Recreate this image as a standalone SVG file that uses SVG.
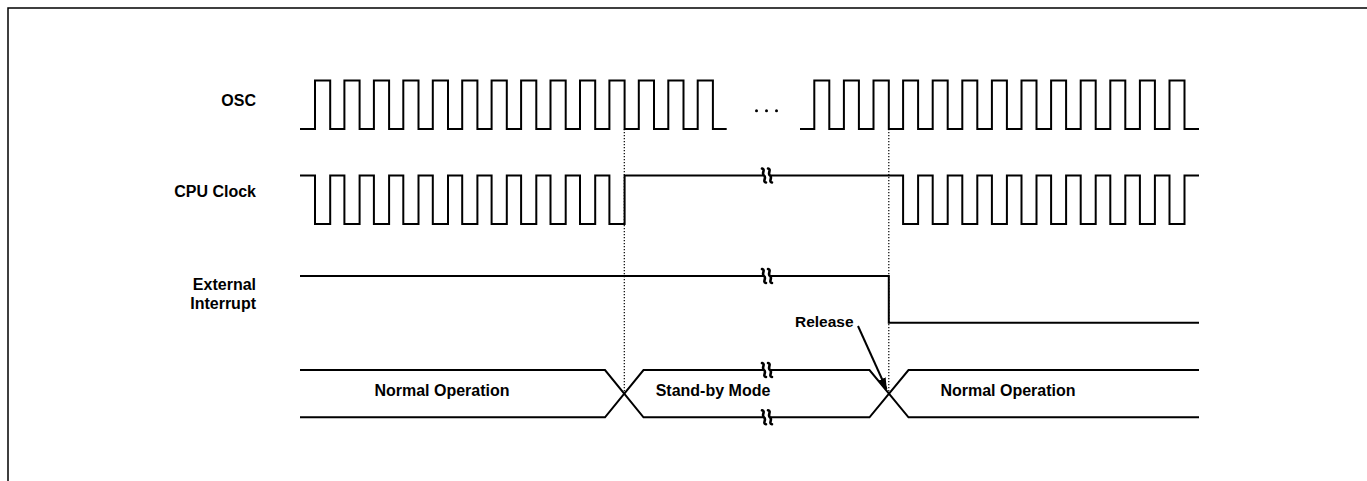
<svg xmlns="http://www.w3.org/2000/svg" width="1367" height="481" viewBox="0 0 1367 481">
<style>
.frame{fill:none;stroke:#000;stroke-width:1.5}
.wave{fill:none;stroke:#000;stroke-width:2;stroke-linejoin:miter;stroke-linecap:butt}
.dot{fill:none;stroke:#000;stroke-width:1.2;stroke-dasharray:1.2 1.8}
.brk{fill:none;stroke:#000;stroke-width:2.6;stroke-linecap:round}
.gap{fill:#fff;stroke:none}
text{font-family:"Liberation Sans",Arial,sans-serif;font-weight:bold;font-size:16px;fill:#000}
.lbl{text-anchor:end}
.mid{text-anchor:middle}
</style>
<defs>
<marker id="arr" viewBox="0 0 12 10" refX="11" refY="5" markerWidth="12" markerHeight="10" markerUnits="userSpaceOnUse" orient="auto">
<path d="M0,1 L12,5 L0,9 Z" fill="#000"/>
</marker>
<g id="brkmark">
<path class="gap" d="M-3,-9 L4,-9 L3,9 L-4,9 Z"/>
<path class="brk" d="M-5,-7 C-1,-6 -6,-2 -3,0 C0,2 -5,6 -1,7"/>
<path class="brk" d="M1,-7 C5,-6 0,-2 3,0 C6,2 1,6 5,7"/>
</g>
</defs>
<path class="frame" d="M8,481 V8 H1367"/>
<g id="labels">
<text class="lbl" x="256" y="105.5">OSC</text>
<text class="lbl" x="256" y="197">CPU Clock</text>
<text class="lbl" x="256" y="290">External</text>
<text class="lbl" x="256" y="308.5">Interrupt</text>
</g>
<g id="osc">
<path class="wave" d="M300,129 H315 V80.5 H330.2 V129 H344.4 V80.5 H359.6 V129 H373.9 V80.5 H389.1 V129 H403.3 V80.5 H418.5 V129 H432.8 V80.5 H448 V129 H462.2 V80.5 H477.4 V129 H491.6 V80.5 H506.8 V129 H521.1 V80.5 H536.3 V129 H550.5 V80.5 H565.7 V129 H580 V80.5 H595.2 V129 H609.4 V80.5 H624.6 V129 H638.8 V80.5 H654 V129 H668.3 V80.5 H683.5 V129 H697.7 V80.5 H712.9 V129 H726.7"/>
<circle cx="756.5" cy="110.7" r="1.5"/>
<circle cx="766.5" cy="110.7" r="1.5"/>
<circle cx="776.5" cy="110.7" r="1.5"/>
<path class="wave" d="M800,129 H814.3 V80.5 H829.3 V129 H843.9 V80.5 H858.9 V129 H873.5 V80.5 H888.8 V129 H903.1 V80.5 H918.1 V129 H932.7 V80.5 H947.7 V129 H962.3 V80.5 H977.3 V129 H991.9 V80.5 H1006.9 V129 H1021.5 V80.5 H1036.5 V129 H1051.1 V80.5 H1066.1 V129 H1080.7 V80.5 H1095.7 V129 H1110.3 V80.5 H1125.3 V129 H1139.9 V80.5 H1154.9 V129 H1169.5 V80.5 H1184.5 V129 H1199"/>
</g>
<g id="cpu">
<path class="wave" d="M300,175.5 H315 V224 H330.2 V175.5 H344.4 V224 H359.6 V175.5 H373.9 V224 H389.1 V175.5 H403.3 V224 H418.5 V175.5 H432.8 V224 H448 V175.5 H462.2 V224 H477.4 V175.5 H491.6 V224 H506.8 V175.5 H521.1 V224 H536.3 V175.5 H550.5 V224 H565.7 V175.5 H580 V224 H595.2 V175.5 H609.4 V224 H624.6 V175.5 H903.1 V224 H918.1 V175.5 H932.7 V224 H947.7 V175.5 H962.3 V224 H977.3 V175.5 H991.9 V224 H1006.9 V175.5 H1021.5 V224 H1036.5 V175.5 H1051.1 V224 H1066.1 V175.5 H1080.7 V224 H1095.7 V175.5 H1110.3 V224 H1125.3 V175.5 H1139.9 V224 H1154.9 V175.5 H1169.5 V224 H1184.5 V175.5 H1199"/>
<use href="#brkmark" x="767" y="175.5"/>
</g>
<g id="extint">
<path class="wave" d="M300,276 H888.8 V322.7 H1199"/>
<use href="#brkmark" x="767" y="276"/>
</g>
<g id="bus">
<path class="wave" d="M300,370 H605 L643.5,417.3 H869.5 L908.5,370 H1199"/>
<path class="wave" d="M300,417.3 H605 L643.5,370 H869.5 L908.5,417.3 H1199"/>
<use href="#brkmark" x="767" y="370"/>
<use href="#brkmark" x="767" y="417.3"/>
<text class="mid" x="442" y="396">Normal Operation</text>
<text class="mid" x="713" y="396">Stand-by Mode</text>
<text class="mid" x="1008" y="396">Normal Operation</text>
</g>
<g id="connectors">
<path class="dot" d="M624.3,129 V393.7"/>
<path class="dot" d="M888.8,129 V393.7"/>
<path class="wave" d="M858,326 L886.5,389" marker-end="url(#arr)"/>
<text x="795" y="326.5" style="font-size:15.5px">Release</text>
</g>
</svg>
